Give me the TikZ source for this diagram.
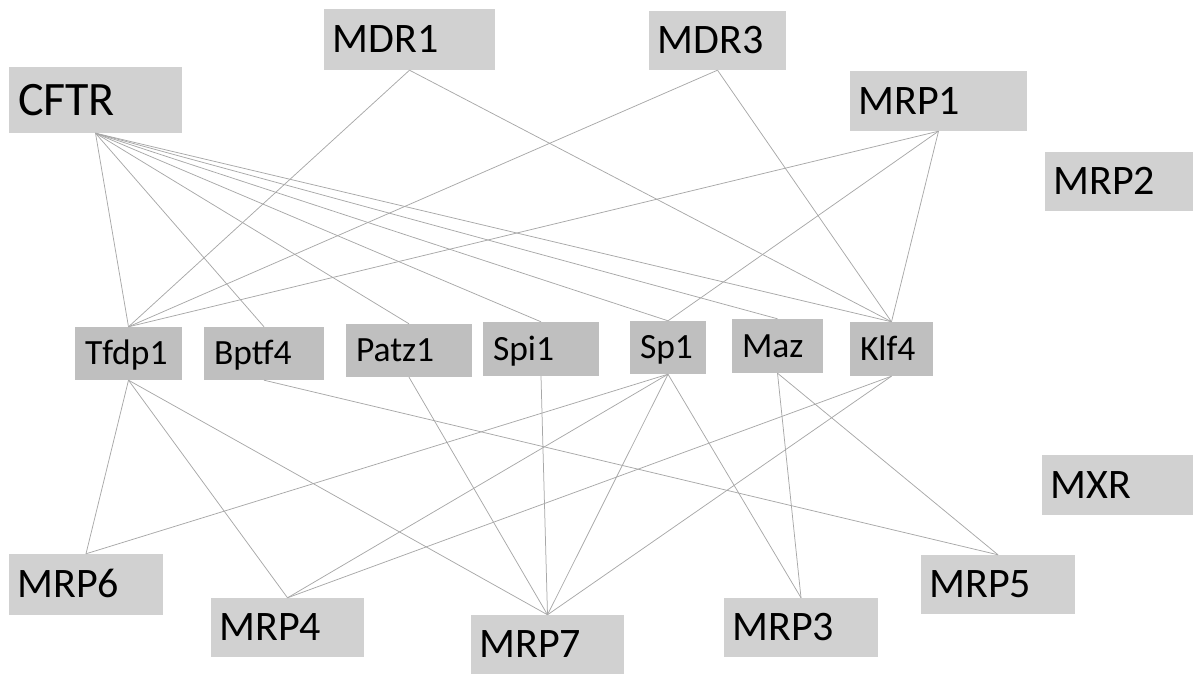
\documentclass[tikz,border=0pt]{standalone}
\usepackage{fontspec}
\setmainfont{Carlito}
\definecolor{boxlight}{RGB}{209,209,209}
\definecolor{boxdark}{RGB}{191,191,191}
\definecolor{linkgray}{RGB}{168,168,168}
\tikzset{
  lightbox/.style={fill=boxlight, draw=none, inner xsep=8.5pt, inner ysep=0pt,
    align=left, font=\fontsize{42}{42}\selectfont, text height=26.5pt, text depth=0pt},
  bigbox/.style={lightbox, inner xsep=9pt, font=\fontsize{48}{48}\selectfont,
    text height=30.3pt},
  darkbox/.style={fill=boxdark, draw=none, inner xsep=10pt, inner ysep=0pt,
    align=left, font=\fontsize{35.5}{35.5}\selectfont, text height=22.4pt, text depth=0pt},
  link/.style={draw=linkgray, line width=0.75pt}
}
\begin{document}
\begin{tikzpicture}[x=1pt, y=1pt]
\useasboundingbox (0,0) rectangle (1193,674);

% upper row
\node[bigbox, minimum width=173pt, text width=155pt, minimum height=66pt] (CFTR) at (95.5,574) {CFTR};
\node[lightbox, minimum width=171pt, text width=154pt, minimum height=61pt] (MDR1) at (409.5,634.5) {MDR1};
\node[lightbox, minimum width=137pt, text width=120pt, minimum height=59pt] (MDR3) at (717.5,633.5) {MDR3};
\node[lightbox, minimum width=177pt, text width=160pt, minimum height=60pt] (MRP1) at (938.5,573) {MRP1};
\node[lightbox, minimum width=148pt, text width=131pt, minimum height=59pt] (MRP2) at (1119,492.5) {MRP2};

% middle row
\node[darkbox, minimum width=107pt, text width=87pt, minimum height=53pt] (Tfdp1) at (128.5,320.5) {Tfdp1};
\node[darkbox, minimum width=120pt, text width=100pt, minimum height=53pt] (Bptf4) at (264,320.5) {Bptf4};
\node[darkbox, minimum width=126pt, text width=106pt, minimum height=53pt] (Patz1) at (409,323.5) {Patz1};
\node[darkbox, minimum width=116pt, text width=96pt, minimum height=54pt] (Spi1) at (541,325) {Spi1};
\node[darkbox, minimum width=76pt, text width=56pt, minimum height=53pt] (Sp1) at (668,326.5) {Sp1};
\node[darkbox, minimum width=91pt, text width=71pt, minimum height=54pt] (Maz) at (777.5,328) {Maz};
\node[darkbox, minimum width=83pt, text width=63pt, minimum height=54pt] (Klf4) at (891.5,325) {Klf4};

% lower row
\node[lightbox, minimum width=151pt, text width=134pt, minimum height=60pt] (MXR) at (1117.5,189) {MXR};
\node[lightbox, minimum width=154pt, text width=137pt, minimum height=61pt] (MRP6) at (86,89.5) {MRP6};
\node[lightbox, minimum width=153pt, text width=136pt, minimum height=59pt] (MRP4) at (287.5,46.5) {MRP4};
\node[lightbox, minimum width=153pt, text width=136pt, minimum height=59pt] (MRP7) at (547.5,29.5) {MRP7};
\node[lightbox, minimum width=154pt, text width=137pt, minimum height=59pt] (MRP3) at (801,46.5) {MRP3};
\node[lightbox, minimum width=154pt, text width=137pt, minimum height=59pt] (MRP5) at (998,89.5) {MRP5};

% links from the upper row
\foreach \t in {Tfdp1,Bptf4,Patz1,Spi1,Sp1,Maz,Klf4}
  \draw[link] (CFTR.south) -- (\t.north);
\draw[link] (MDR1.south) -- (Tfdp1.north);
\draw[link] (MDR1.south) -- (Klf4.north);
\draw[link] (MDR3.south) -- (Tfdp1.north);
\draw[link] (MDR3.south) -- (Klf4.north);
\draw[link] (MRP1.south) -- (Tfdp1.north);
\draw[link] (MRP1.south) -- (Sp1.north);
\draw[link] (MRP1.south) -- (Klf4.north);

% links to the lower row
\draw[link] (Tfdp1.south) -- (MRP6.north);
\draw[link] (Tfdp1.south) -- (MRP4.north);
\draw[link] (Tfdp1.south) -- (MRP7.north);
\draw[link] (Bptf4.south) -- (MRP5.north);
\draw[link] (Patz1.south) -- (MRP7.north);
\draw[link] (Spi1.south) -- (MRP7.north);
\draw[link] (Sp1.south) -- (MRP6.north);
\draw[link] (Sp1.south) -- (MRP4.north);
\draw[link] (Sp1.south) -- (MRP7.north);
\draw[link] (Sp1.south) -- (MRP3.north);
\draw[link] (Maz.south) -- (MRP3.north);
\draw[link] (Maz.south) -- (MRP5.north);
\draw[link] (Klf4.south) -- (MRP4.north);
\draw[link] (Klf4.south) -- (MRP7.north);
\end{tikzpicture}
\end{document}
